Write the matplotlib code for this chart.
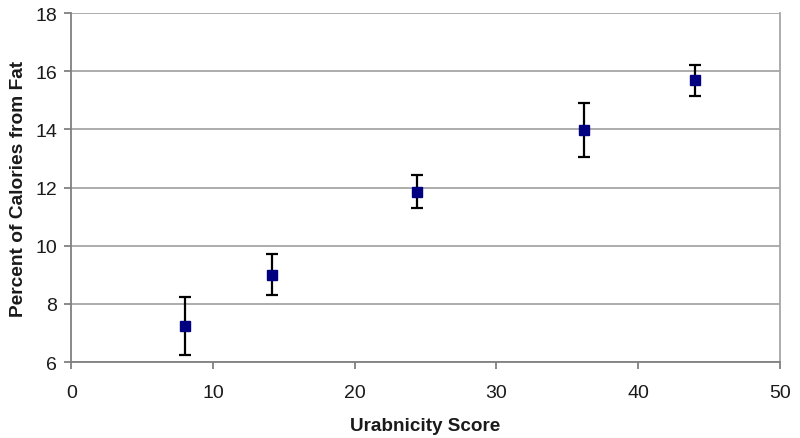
import matplotlib
matplotlib.use("Agg")
import matplotlib.pyplot as plt
import numpy as np

plt.rcParams['font.family'] = ['Liberation Sans', 'DejaVu Sans']

urbanicity = [8.0, 14.2, 24.4, 36.2, 44.0]
fat_pct = [7.23, 9.01, 11.85, 13.98, 15.70]
err_upper = [8.23, 9.72, 12.42, 14.90, 16.22]
err_lower = [6.25, 8.29, 11.28, 13.06, 15.14]

x_ticks = [0, 10, 20, 30, 40, 50]
y_ticks = [6, 8, 10, 12, 14, 16, 18]

fig = plt.figure(figsize=(8, 4.39), dpi=100)
ax = fig.add_axes([0.089, 0.173, 0.886, 0.795])

y = np.array(fat_pct)
yerr = [y - np.array(err_lower), np.array(err_upper) - y]

ax.set_xlim(0, 50)
ax.set_ylim(6, 18)
ax.set_xticks(x_ticks)
ax.set_yticks(y_ticks)
ax.yaxis.grid(True, color='#a6a6a6', linewidth=1.3)
ax.set_axisbelow(True)

ax.errorbar(urbanicity, fat_pct, yerr=yerr, fmt='s', color='#000080',
            markersize=7.5, ecolor='black', elinewidth=1.6, capsize=4,
            capthick=1.6, zorder=3)

for s in ['left', 'bottom']:
    ax.spines[s].set_color('#808080')
    ax.spines[s].set_linewidth(1.3)
ax.spines['right'].set_color('#a6a6a6')
ax.spines['right'].set_linewidth(1.3)
ax.spines['top'].set_visible(False)

ax.tick_params(axis='both', colors='#808080', width=1.3, length=5,
               labelcolor='#1a1a1a', labelsize=14)
ax.tick_params(axis='x', pad=11)
ax.tick_params(axis='y', pad=5)

ax.set_xlabel('Urabnicity Score', fontsize=13.6, fontweight='bold', labelpad=11, color='#1a1a1a')
ax.set_ylabel('Percent of Calories from Fat', fontsize=13.8, fontweight='bold', labelpad=6, color='#1a1a1a')

fig.savefig('out.png', dpi=100)
